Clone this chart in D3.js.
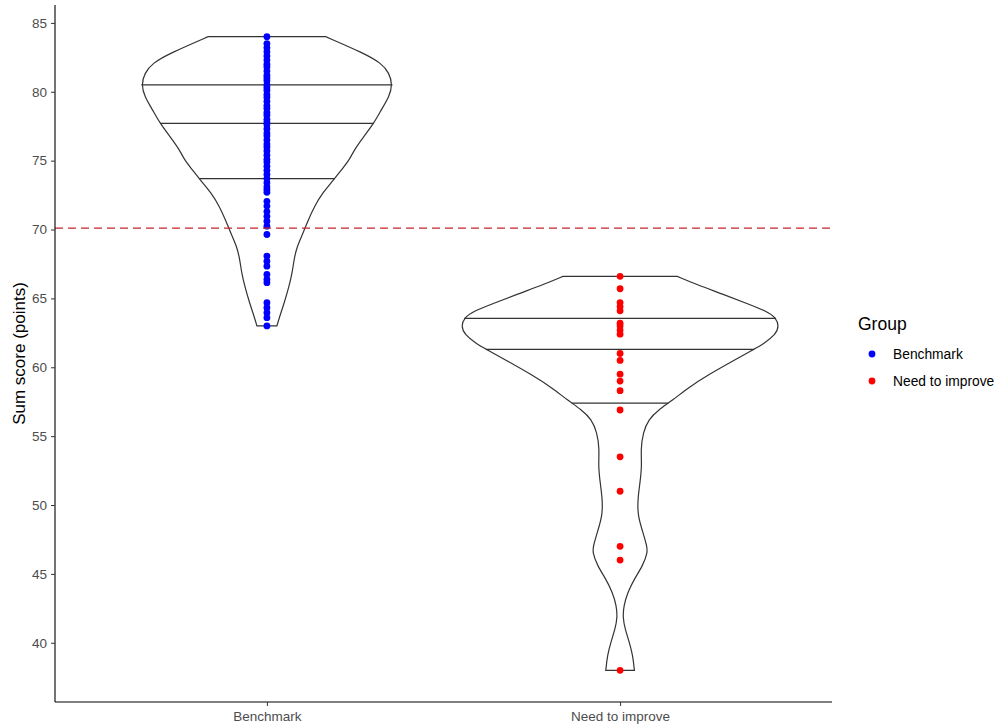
<!DOCTYPE html>
<html>
<head>
<meta charset="utf-8">
<script src="https://cdn.jsdelivr.net/npm/d3@7"></script>
<style>
  body { margin: 0; background: #fff; }
  svg { font-family: "Liberation Sans", Arial, sans-serif; }
</style>
</head>
<body>
<div id="chart"></div>
<script>
// groups and colours
const groups = ['Benchmark', 'Need to improve'];
const groupColors = ['#0000ff', '#ff0000'];

// individual sum scores
const benchScores = [84.0, 83.5, 83.2, 82.9, 82.6, 82.3, 82.0, 81.8, 81.5, 81.2, 81.0, 80.8,
  80.5, 80.3, 80.1, 79.8, 79.6, 79.3, 79.0, 78.8, 78.5, 78.3, 78.0, 77.8, 77.6, 77.3,
  77.0, 76.8, 76.5, 76.2, 76.0, 75.7, 75.4, 75.1, 74.9, 74.6, 74.3, 74.0, 73.7, 73.4,
  73.1, 72.9, 72.7, 72.05, 71.7, 71.3, 70.96, 70.6, 70.24, 69.64, 68.07, 67.7, 67.34,
  66.74, 66.38, 66.14, 64.69, 64.33, 63.96, 63.6, 63.0];
const improveScores = [66.6, 65.7, 64.7, 64.4, 64.1, 63.2, 63.0, 62.7, 62.4, 61.0, 60.5,
  59.5, 59.0, 58.3, 56.9, 53.5, 51.0, 47.0, 46.0, 38.0];

// violin outlines: [score, scaled density] (1 = widest violin)
const benchDensity = [[63.0, 0.063], [63.5, 0.075], [64.7, 0.11], [65.9, 0.14], [66.9, 0.16],
  [67.8, 0.17], [68.8, 0.19], [69.8, 0.23], [70.7, 0.26], [71.7, 0.30], [72.66, 0.35],
  [73.6, 0.42], [74.35, 0.47], [75.07, 0.52], [75.8, 0.55], [76.76, 0.61], [77.66, 0.67],
  [78.7, 0.72], [79.66, 0.77], [80.5, 0.79], [81.36, 0.77], [82.08, 0.72], [82.8, 0.61],
  [84.0, 0.37]];
const improveDensity = [[38.0, 0.09], [39.08, 0.08], [40.05, 0.058], [41.0, 0.031],
  [41.86, 0.017], [42.7, 0.023], [43.67, 0.048], [44.64, 0.09], [45.6, 0.143],
  [46.57, 0.174], [47.05, 0.168], [48.04, 0.143], [49.22, 0.111], [50.43, 0.111],
  [51.67, 0.126], [52.85, 0.137], [54.06, 0.13], [55.29, 0.145], [56.23, 0.18],
  [56.9, 0.24], [57.6, 0.33], [58.53, 0.43], [59.49, 0.56], [60.46, 0.71], [61.3, 0.84],
  [61.67, 0.90], [62.39, 0.98], [62.99, 1.0], [63.6, 0.98], [64.08, 0.92], [64.57, 0.81],
  [65.29, 0.65], [66.01, 0.48], [66.6, 0.36]];

// quantile lines (25%, 50%, 75%)
const benchQuantiles = [73.7, 77.7, 80.5];
const improveQuantiles = [57.4, 61.3, 63.55];

const threshold = 70.1;
const yTicks = [40, 45, 50, 55, 60, 65, 70, 75, 80, 85];

const width = 997, height = 728;
const margin = { top: 5, right: 165, bottom: 26, left: 55 };
const innerW = width - margin.left - margin.right;
const innerH = height - margin.top - margin.bottom;

const svg = d3.select('#chart').append('svg')
  .attr('width', width)
  .attr('height', height);

const g = svg.append('g')
  .attr('transform', 'translate(' + margin.left + ',' + margin.top + ')');

// discrete x positions 1, 2 with ggplot's 0.6 expansion
const x = d3.scaleLinear().domain([0.4, 2.6]).range([0, innerW]);
const y = d3.scaleLinear().domain([35.7, 86.3]).range([innerH, 0]);
const halfW = d3.scaleLinear().domain([0, 1]).range([0, x(1.45) - x(1)]);

const violins = [
  { name: groups[0], pos: 1, dens: benchDensity, q: benchQuantiles, pts: benchScores, color: groupColors[0] },
  { name: groups[1], pos: 2, dens: improveDensity, q: improveQuantiles, pts: improveScores, color: groupColors[1] }
];

const area = d3.area()
  .curve(d3.curveBasis)
  .y(d => y(d[0]));

function widthAt(dens, v) {
  const i = d3.bisector(d => d[0]).left(dens, v);
  if (i <= 0) return dens[0][1];
  if (i >= dens.length) return dens[dens.length - 1][1];
  const a = dens[i - 1], b = dens[i];
  return a[1] + (b[1] - a[1]) * (v - a[0]) / (b[0] - a[0]);
}

violins.forEach(v => {
  const cx = x(v.pos);
  g.append('path')
    .datum(v.dens)
    .attr('d', area.x0(d => cx - halfW(d[1])).x1(d => cx + halfW(d[1])))
    .attr('fill', '#fff')
    .attr('stroke', '#333')
    .attr('stroke-width', 1.2);

  g.append('g').selectAll('line')
    .data(v.q)
    .join('line')
    .attr('x1', d => cx - halfW(widthAt(v.dens, d)))
    .attr('x2', d => cx + halfW(widthAt(v.dens, d)))
    .attr('y1', d => y(d))
    .attr('y2', d => y(d))
    .attr('stroke', '#333')
    .attr('stroke-width', 1.2);
});

violins.forEach(v => {
  g.append('g').selectAll('circle')
    .data(v.pts)
    .join('circle')
    .attr('cx', x(v.pos))
    .attr('cy', d => y(d))
    .attr('r', 3.4)
    .attr('fill', v.color);
});

// threshold line
g.append('line')
  .attr('x1', 0).attr('x2', innerW)
  .attr('y1', y(threshold)).attr('y2', y(threshold))
  .attr('stroke', '#c4262b')
  .attr('stroke-width', 1.2)
  .attr('stroke-dasharray', '8,5');

// axes
const yAxis = d3.axisLeft(y).tickValues(yTicks).tickSize(4).tickPadding(4);
const xAxis = d3.axisBottom(x).tickValues([1, 2]).tickFormat(d => groups[d - 1]).tickSize(4).tickPadding(5);

const ya = g.append('g').call(yAxis);
ya.select('.domain').attr('d', 'M0,0V' + innerH).attr('stroke', '#000').attr('stroke-width', 1.1);
ya.selectAll('.tick line').attr('stroke', '#333');
ya.selectAll('.tick text').attr('fill', '#4d4d4d').style('font-size', '13.5px');

const xa = g.append('g').attr('transform', 'translate(0,' + innerH + ')').call(xAxis);
xa.select('.domain').attr('d', 'M0,0H' + innerW).attr('stroke', '#000').attr('stroke-width', 1.1);
xa.selectAll('.tick line').attr('stroke', '#333');
xa.selectAll('.tick text').attr('fill', '#4d4d4d').style('font-size', '13.5px');

svg.append('text')
  .attr('transform', 'translate(25,' + (margin.top + innerH / 2) + ') rotate(-90)')
  .attr('text-anchor', 'middle')
  .style('font-size', '17px')
  .attr('fill', '#000')
  .text('Sum score (points)');

// legend
const legend = svg.append('g').attr('transform', 'translate(858,0)');
legend.append('text')
  .attr('x', 0).attr('y', 330)
  .style('font-size', '17.5px')
  .text('Group');
legend.selectAll('circle')
  .data(groups)
  .join('circle')
  .attr('cx', 14)
  .attr('cy', (d, i) => 354 + i * 27)
  .attr('r', 3.4)
  .attr('fill', (d, i) => groupColors[i]);
legend.selectAll('text.lab')
  .data(groups)
  .join('text')
  .attr('class', 'lab')
  .attr('x', 35)
  .attr('y', (d, i) => 359 + i * 27)
  .style('font-size', '13.8px')
  .text(d => d);
</script>
</body>
</html>
